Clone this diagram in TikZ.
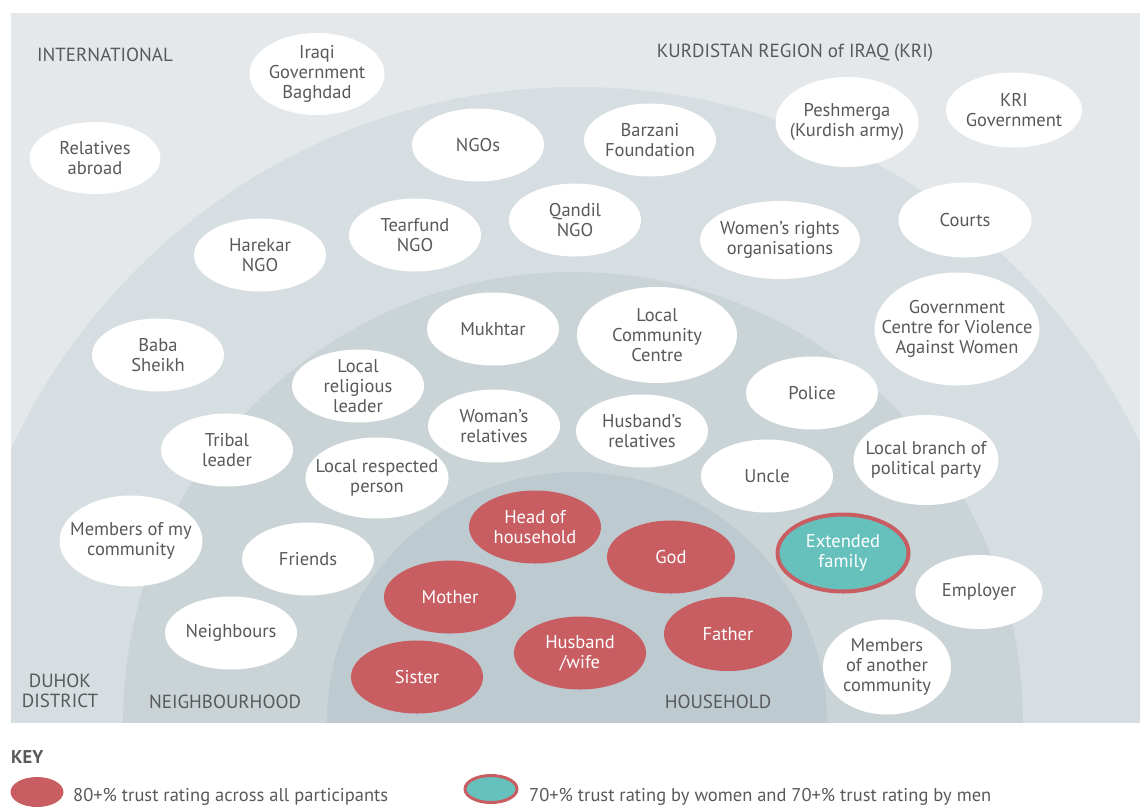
\documentclass[tikz,border=0pt]{standalone}
\usepackage{fontspec}
\setmainfont{PT Sans}
\usetikzlibrary{shapes.geometric}
\definecolor{bgout}{HTML}{E4E8EB}
\definecolor{bgdist}{HTML}{D6DEE1}
\definecolor{bgnbh}{HTML}{CAD4D7}
\definecolor{bghome}{HTML}{BDCBD1}
\definecolor{trustred}{HTML}{C85D62}
\definecolor{trustteal}{HTML}{66C1BD}
\definecolor{inktext}{HTML}{58595B}

\begin{document}
\begin{tikzpicture}[x=1pt,y=-1pt,
  every node/.style={font=\fontsize{18.5}{20}\selectfont, text=inktext, align=center},
  party/.style={ellipse, fill=white, inner xsep=-20pt, inner ysep=-6pt, minimum width=132, minimum height=73},
  toptrust/.style={party, fill=trustred, text=white},
  mixtrust/.style={party, fill=trustteal, draw=trustred, line width=4pt, text=white},
  zone/.style={inner sep=0pt, font=\fontsize{19}{20}\selectfont}]
\useasboundingbox (0,0) rectangle (1141,807);
\fill[bgout] (11,13) rectangle (1140,722);
\begin{scope}
\clip (11,13) rectangle (1140,722);
\fill[bgdist] (577,710) circle (623pt);
\fill[bgnbh] (573,722) circle (450pt);
\fill[bghome] (577,722) circle (250pt);
\end{scope}

\node[zone] (intl) at (105,55) {INTERNATIONAL};
\node[zone] (kri) at (795,53) {KURDISTAN REGION of IRAQ (KRI)};
\node[zone] (duhok) at (60,691) {DUHOK\\DISTRICT};
\node[zone] (nbh) at (225,702) {NEIGHBOURHOOD};
\node[zone] (home) at (718,702) {HOUSEHOLD};

\node[party, minimum width=135, minimum height=82] (iraqgov) at (317,74) {Iraqi\\Government\\Baghdad};
\node[party, minimum width=131, minimum height=72] (abroad) at (95,158) {Relatives\\abroad};
\node[party] (ngos) at (478,145) {NGOs};
\node[party] (barzani) at (650,140) {Barzani\\Foundation};
\node[party, minimum width=143, minimum height=90] (peshmerga) at (847,122) {Peshmerga\\(Kurdish army)};
\node[party, minimum width=136, minimum height=75] (krigov) at (1014,110) {KRI\\Government};
\node[party, minimum width=133, minimum height=75] (courts) at (965,220) {Courts};
\node[party, minimum width=160, minimum height=78] (womenrights) at (780,240) {Women's rights\\organisations};
\node[party] (qandil) at (575,220) {Qandil\\NGO};
\node[party] (tearfund) at (415,235) {Tearfund\\NGO};
\node[party] (harekar) at (260,255) {Harekar\\NGO};
\node[party] (baba) at (158,355) {Baba\\Sheikh};
\node[party] (mukhtar) at (493,329) {Mukhtar};
\node[party, minimum width=160, minimum height=96] (centre) at (657,335) {Local\\Community\\Centre};
\node[party, minimum width=165, minimum height=113] (govcentre) at (957,329) {Government\\Centre for Violence\\Against Women};
\node[party] (religious) at (358,386) {Local\\religious\\leader};
\node[party] (police) at (812,393) {Police};
\node[party] (womanrel) at (494,426) {Woman's\\relatives};
\node[party] (husbandrel) at (642,431) {Husband's\\relatives};
\node[party] (tribal) at (227,450) {Tribal\\leader};
\node[party, minimum width=143, minimum height=81] (respected) at (377,478) {Local respected\\person};
\node[party] (uncle) at (767,476) {Uncle};
\node[party, minimum width=145, minimum height=90] (political) at (926,460) {Local branch of\\political party};
\node[party, minimum width=143, minimum height=91] (mycomm) at (131,541) {Members of my\\community};
\node[party] (friends) at (308,559) {Friends};
\node[party] (neighbours) at (231,633) {Neighbours};
\node[party, minimum width=127, minimum height=74] (employer) at (979,592) {Employer};
\node[party, minimum width=128, minimum height=95] (othercomm) at (887,667) {Members\\of another\\community};

\node[toptrust] (head) at (535,527) {Head of\\household};
\node[toptrust, minimum width=128] (god) at (671,557) {God};
\node[toptrust] (mother) at (450,597) {Mother};
\node[toptrust] (husband) at (580,653) {Husband\\/wife};
\node[toptrust, minimum width=128, minimum height=74] (father) at (728,634) {Father};
\node[toptrust] (sister) at (417,677) {Sister};
\node[mixtrust, minimum width=131, minimum height=77] (extended) at (843,553) {Extended\\family};

\node[zone, anchor=west, font=\fontsize{18.5}{20}\selectfont\bfseries] (key) at (11,757) {KEY};
\node[toptrust, minimum width=53, minimum height=30] (keyred) at (37,792) {};
\node[zone, anchor=west, font=\fontsize{18.5}{20}\selectfont] (keyredtxt) at (73,797) {80+\% trust rating across all participants};
\node[mixtrust, line width=3pt, minimum width=52, minimum height=27] (keyteal) at (491,789) {};
\node[zone, anchor=west, font=\fontsize{18.5}{20}\selectfont] (keytealtxt) at (529,797) {70+\% trust rating by women and 70+\% trust rating by men};
\end{tikzpicture}
\end{document}
